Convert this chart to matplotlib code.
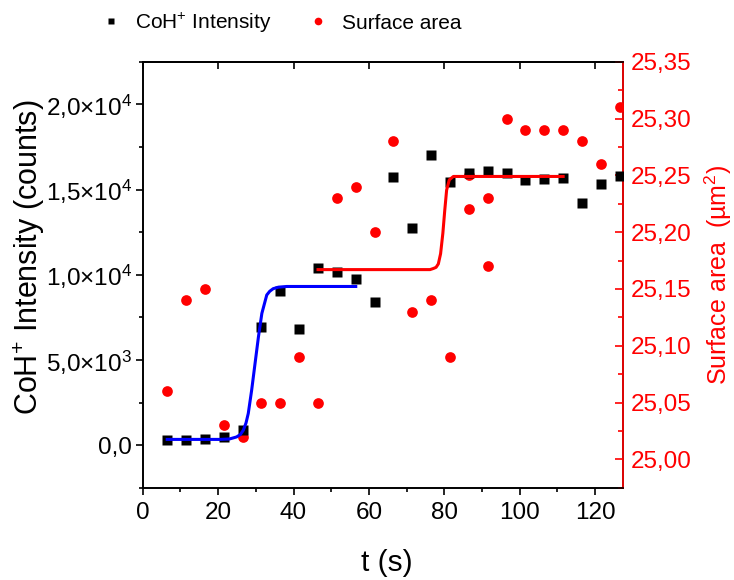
import matplotlib
matplotlib.use('Agg')
import matplotlib.pyplot as plt
from matplotlib.ticker import MultipleLocator, FixedLocator, FixedFormatter, FuncFormatter, NullLocator
from matplotlib.lines import Line2D

# CoH+ intensity (black squares, left axis)
t_coh = [6.5, 11.5, 16.5, 21.5, 26.5, 31.5, 36.5, 41.5, 46.5, 51.5, 56.5, 61.5, 66.5,
         71.5, 76.5, 81.5, 86.5, 91.5, 96.5, 101.5, 106.5, 111.5, 116.5, 121.5, 126.5]
coh = [300, 300, 350, 470, 880, 6930, 9040, 6810, 10370, 10140, 9730, 8380, 15720,
       12720, 17030, 15460, 15950, 16090, 15950, 15540, 15600, 15660, 14190, 15330, 15780]

# surface area (red circles, right axis)
t_area = [6.5, 11.5, 16.5, 21.5, 26.5, 31.5, 36.5, 41.5, 46.5, 51.5, 56.5, 61.5, 66.5, 71.5,
          76.5, 81.5, 86.5, 86.5, 91.5, 91.5, 96.5, 101.5, 106.5, 111.5, 116.5, 121.5, 126.5]
area = [25.06, 25.14, 25.15, 25.03, 25.02, 25.05, 25.05, 25.09, 25.05, 25.23, 25.24, 25.20, 25.28, 25.13,
        25.14, 25.09, 25.25, 25.22, 25.23, 25.17, 25.30, 25.29, 25.29, 25.29, 25.28, 25.26, 25.31]

# fitted step curves
fit_coh_t = [6.5, 20.5, 23.0, 24.9, 25.9, 26.7, 27.4, 28.0, 28.9, 29.8, 30.7, 31.6, 32.9,
             33.7, 34.6, 36.0, 38.2, 56.5]
fit_coh = [335, 335, 360, 480, 620, 880, 1300, 1860, 3230, 4800, 6360, 7730, 8810,
           9030, 9180, 9270, 9310, 9310]
fit_area_t = [46.5, 76.2, 77.1, 77.8, 78.4, 79.0, 79.6, 80.1, 80.6, 81.3, 82.4, 84.0, 111.5]
fit_area = [25.167, 25.167, 25.168, 25.169, 25.172, 25.181, 25.199, 25.219, 25.237, 25.246,
            25.249, 25.249, 25.249]

coh_ticks = [0, 5000, 10000, 15000, 20000]
coh_tick_labels = ['0,0', '5,0×10$^3$', '1,0×10$^4$', '1,5×10$^4$', '2,0×10$^4$']

plt.rcParams['font.family'] = ['Liberation Sans', 'DejaVu Sans']
plt.rcParams['mathtext.fontset'] = 'custom'
plt.rcParams['mathtext.rm'] = 'Liberation Sans'
plt.rcParams['mathtext.it'] = 'Liberation Sans:italic'
plt.rcParams['mathtext.bf'] = 'Liberation Sans:bold'

fig = plt.figure(figsize=(7.34, 5.8), dpi=100)
ax = fig.add_axes([0.1944, 0.1591, 0.654, 0.7345])
ax2 = ax.twinx()

# everything drawn in ax2 so the stacking order matches (black transformed with ax.transData)
ax2.plot(t_area, area, 'o', color='#ff0000', ms=7.7, mec='none', zorder=2)
ax2.plot(t_coh, coh, 's', color='black', ms=6.8, mec='none', zorder=3, transform=ax.transData)
ax2.plot(fit_area_t, fit_area, '-', color='#ff0000', lw=2.2, zorder=4)
ax2.plot(fit_coh_t, fit_coh, '-', color='#0000ff', lw=2.2, zorder=5, transform=ax.transData)

ax.set_xlim(0, 127.3)
ax.set_ylim(-2500, 22500)
ax2.set_ylim(24.975, 25.35)

ax.xaxis.set_major_locator(MultipleLocator(20))
ax.xaxis.set_minor_locator(MultipleLocator(10))
ax.yaxis.set_major_locator(FixedLocator(coh_ticks))
ax.yaxis.set_major_formatter(FixedFormatter(coh_tick_labels))
ax.yaxis.set_minor_locator(MultipleLocator(2500))
ax.tick_params(which='both', direction='out', width=1.2, labelsize=17.5, pad=5)
ax.tick_params(which='major', length=5)
ax.tick_params(which='minor', length=3)
ax.tick_params(axis='y', pad=3)

top = ax.secondary_xaxis('top')
top.xaxis.set_major_locator(MultipleLocator(20))
top.xaxis.set_minor_locator(NullLocator())
top.tick_params(direction='in', length=5, width=1.2, labeltop=False)
top.spines['top'].set_linewidth(1.2)

ax2.yaxis.set_major_locator(MultipleLocator(0.05))
ax2.yaxis.set_minor_locator(MultipleLocator(0.025))
ax2.yaxis.set_major_formatter(FuncFormatter(lambda v, p: f'{v:.2f}'.replace('.', ',')))
ax2.tick_params(axis='y', which='both', direction='in', colors='#ff0000', width=1.2,
                labelsize=17.5, pad=6)
ax2.tick_params(axis='y', which='major', length=5.5)
ax2.tick_params(axis='y', which='minor', length=3.5)

for a in (ax, ax2):
    for s in a.spines.values():
        s.set_linewidth(1.2)
ax2.spines['right'].set_color('#ff0000')

ax.set_xlabel('t (s)', fontsize=21.5)
ax.xaxis.set_label_coords(0.509, -0.143)
ax.set_ylabel('CoH$^{+}$ Intensity (counts)', fontsize=22)
ax.yaxis.set_label_coords(-0.199, 0.54)
ax2.set_ylabel('Surface area  (µm$^{2}$)', color='#ff0000', fontsize=18)
ax2.yaxis.set_label_coords(1.166, 0.5)

# legend above the plot
em = 15 * 100 / 72
handles = [Line2D([], [], ls='none', marker='s', color='black', ms=5, mec='none'),
           Line2D([], [], ls='none', marker='o', color='#ff0000', ms=5.5, mec='none')]
fig.legend(handles, ['CoH$^{+}$ Intensity', 'Surface area'], loc='center',
           bbox_to_anchor=(0.383, 0.961), ncol=2, frameon=False, prop={'size': 15},
           handlelength=1.0, handletextpad=13.5 / em, columnspacing=36 / em)

fig.savefig('out.png', dpi=100)
